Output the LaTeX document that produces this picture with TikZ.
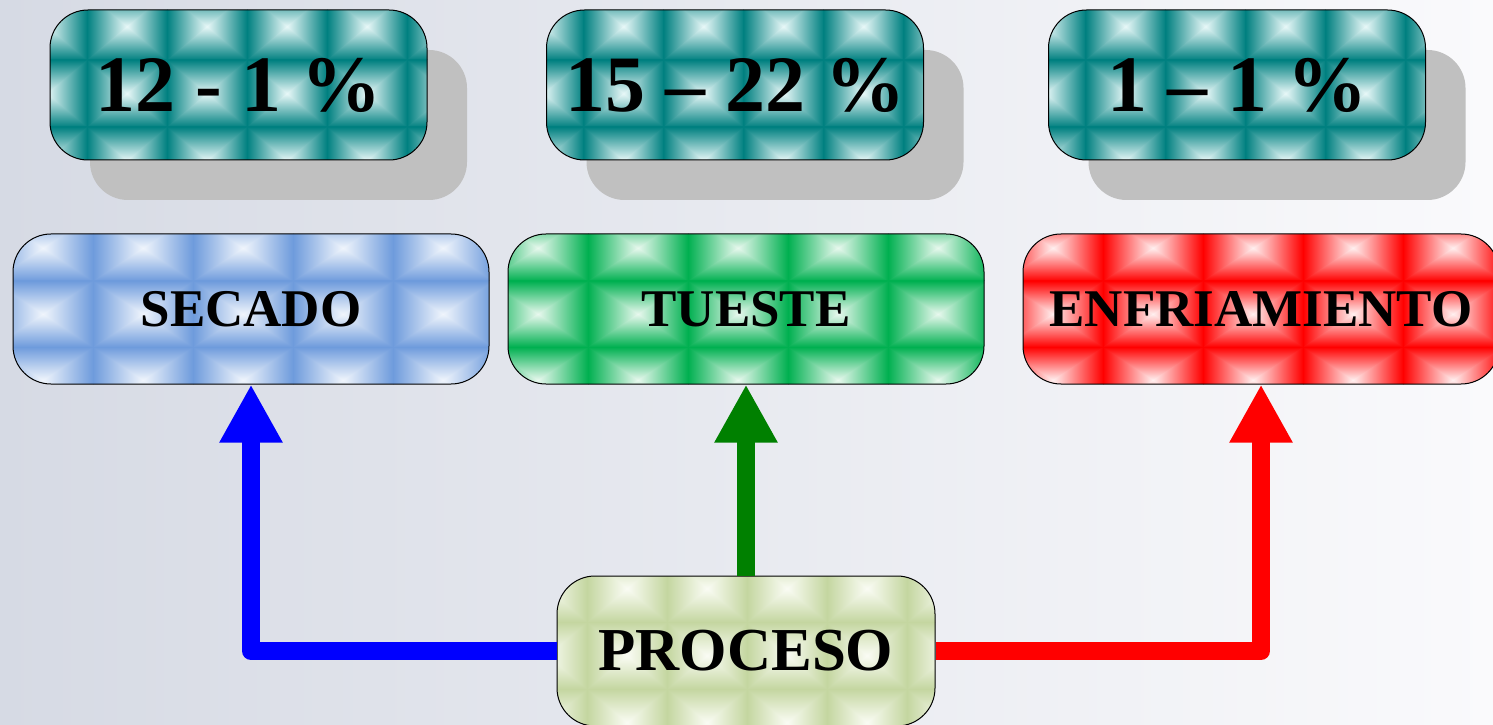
\documentclass[tikz,border=0pt]{standalone}
\usepackage{fontspec}
\setmainfont{Liberation Serif}
\usetikzlibrary{arrows.meta,positioning,shadows,calc}

\definecolor{bgleft}{RGB}{214,218,228}
\definecolor{bgright}{RGB}{250,250,252}
\definecolor{tealdark}{RGB}{0,128,128}
\definecolor{teallight}{RGB}{232,248,248}
\definecolor{bluedark}{RGB}{110,155,220}
\definecolor{bluelight}{RGB}{240,245,252}
\definecolor{greendark}{RGB}{0,176,80}
\definecolor{greenlight}{RGB}{232,248,238}
\definecolor{reddark}{RGB}{255,0,0}
\definecolor{redlight}{RGB}{255,240,240}
\definecolor{olivedark}{RGB}{196,214,160}
\definecolor{olivelight}{RGB}{250,252,244}
\definecolor{shadowgray}{RGB}{192,192,192}

% pyramid tiles: dark, light, tile width, tile height, x phase, y phase
\newcommand\tilegrid[6]{%
  \begin{scope}[sharp corners]
  \foreach \i in {0,...,6}
  \foreach \j in {0,...,3}
  {
    \coordinate (t) at ($(path picture bounding box.south west)
      +({(#5+\i*#3)*1pt},{(#6+\j*#4)*1pt})$);
    \shade[left color=#1,right color=#1,middle color=#2]
      (t) rectangle +(#3pt,#4pt);
    \shade[top color=#1,bottom color=#1,middle color=#2]
      (t) -- +(#3pt,0pt) -- +(#3pt/2,#4pt/2) -- cycle
      ($(t)+(0pt,#4pt)$) -- +(#3pt,0pt) -- +(#3pt/2,-#4pt/2) -- cycle;
    % cover the seams between tiles
    \draw[#1,line width=1pt] (t) rectangle +(#3pt,#4pt);
  }
  \end{scope}}

\tikzset{
  box/.style={rectangle,draw=black,line width=1pt,rounded corners=38pt,
    minimum height=150pt,inner sep=0pt},
  stage/.style n args={2}{box,minimum width=476pt,
    font=\fontsize{53}{60}\selectfont\bfseries,
    path picture={\tilegrid{#1}{#2}{100}{66}{-20}{-29}}},
  ratio/.style={box,minimum width=377pt,
    font=\fontsize{80}{90}\selectfont\bfseries,
    drop shadow={shadow xshift=40pt,shadow yshift=-40pt,fill=shadowgray,opacity=1},
    path picture={\tilegrid{tealdark}{teallight}{80}{67}{-43}{-34}}},
  process/.style={box,minimum width=378pt,
    font=\fontsize{61}{70}\selectfont\bfseries,
    path picture={\tilegrid{olivedark}{olivelight}{80}{67}{-50}{-30}}},
  flow/.style={line width=18pt,line join=round,-{Triangle[width=59pt,length=58pt]}}
}

\begin{document}
\begin{tikzpicture}[x=1pt,y=1pt]
\useasboundingbox (0,0) rectangle (1493,724);
\shade[left color=bgleft,right color=bgright] (0,0) rectangle (1493,724);
% percentages
\node [ratio] (r1) at (238.5,639) {12 - 1 \%};
\node [ratio] (r2) at (735,639) {15 – 22 \%};
\node [ratio] (r3) at (1237,639) {1 – 1 \%};
% stages
\node [process] (proc) at (746,73) {PROCESO};
\node [stage={greendark}{greenlight}] (tueste) [above=191pt of proc] {TUESTE};
\node [stage={bluedark}{bluelight}] (secado) [left=18pt of tueste] {SECADO};
\node [stage={reddark}{redlight}] (enfr) [right=38pt of tueste] {ENFRIAMIENTO};
% arrows
\draw [flow,blue] (proc.west) -| (secado.south);
\draw [flow,green!50!black] (proc.north) -- (proc.north |- tueste.south);
\draw [flow,red] (proc.east) -| (enfr.south);
\end{tikzpicture}
\end{document}
